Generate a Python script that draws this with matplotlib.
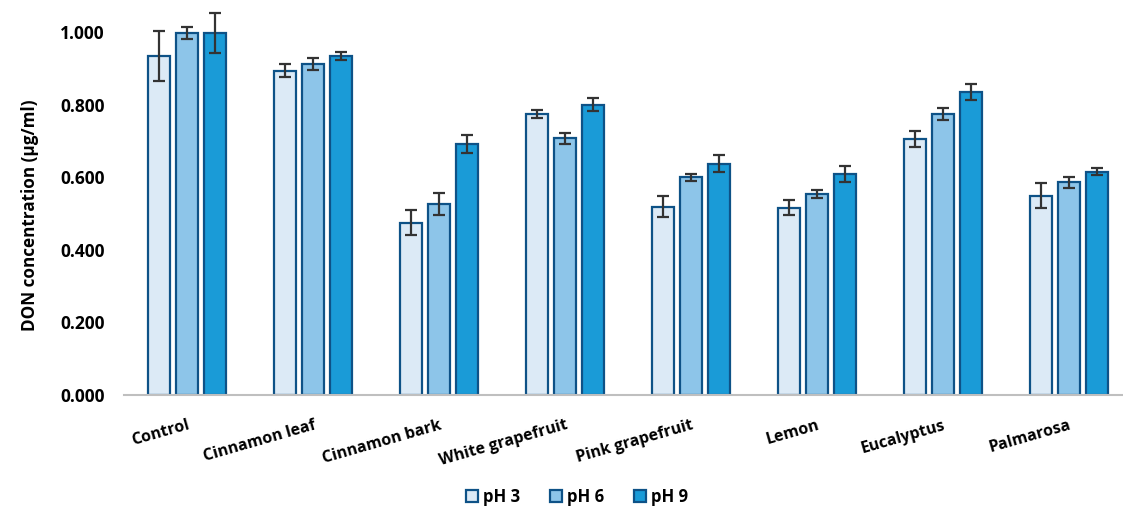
import numpy as np
import matplotlib
matplotlib.use("Agg")
import matplotlib.pyplot as plt

plt.rcParams['font.family'] = ['Open Sans', 'DejaVu Sans']
plt.rcParams['font.weight'] = 'bold'

oils = ['Control', 'Cinnamon leaf', 'Cinnamon bark', 'White grapefruit',
        'Pink grapefruit', 'Lemon', 'Eucalyptus', 'Palmarosa']
series = ['pH 3', 'pH 6', 'pH 9']

ph3 = [0.934, 0.893, 0.475, 0.774, 0.519, 0.516, 0.704, 0.549]
ph6 = [0.997, 0.912, 0.526, 0.707, 0.600, 0.554, 0.775, 0.586]
ph9 = [0.997, 0.934, 0.691, 0.800, 0.637, 0.609, 0.835, 0.615]

ph3_err = [0.069, 0.018, 0.035, 0.010, 0.029, 0.021, 0.022, 0.034]
ph6_err = [0.016, 0.017, 0.030, 0.016, 0.010, 0.010, 0.017, 0.015]
ph9_err = [0.054, 0.010, 0.024, 0.017, 0.023, 0.022, 0.022, 0.010]

yticks = [0.0, 0.2, 0.4, 0.6, 0.8, 1.0]

colors = ['#DCEAF6', '#8DC5E9', '#1A9BD7']
edge = '#0E5287'

fig = plt.figure(figsize=(11.23, 5.14), dpi=100)
ax = fig.add_axes([124 / 1123, 1 - 395 / 514, 1008 / 1123, 1.1 * 363 / 514])

x = np.arange(len(oils))
offsets = [-0.222, 0.0, 0.222]
width = 0.175
for vals, errs, off, col, lab in zip([ph3, ph6, ph9], [ph3_err, ph6_err, ph9_err],
                                     offsets, colors, series):
    ax.bar(x + off, vals, width, color=col, edgecolor=edge, linewidth=1.6,
           label=lab, zorder=2)
    ax.errorbar(x + off, vals, yerr=errs, fmt='none', ecolor='#333333',
                elinewidth=1.6, capsize=4, capthick=1.6, zorder=3, clip_on=False)

ax.set_xlim(-0.5, 7.5)
ax.set_ylim(0, 1.1)
ax.set_yticks(yticks)
ax.set_yticklabels(['%.3f' % v for v in yticks], fontsize=12.5, fontweight='bold')
ax.tick_params(axis='y', length=0, pad=14)
ax.set_xticks(x)
ax.set_xticklabels(oils, rotation=16, ha='right', rotation_mode='anchor',
                   fontsize=11.5, fontweight='bold')
ax.tick_params(axis='x', length=0, pad=16)
for s in ['top', 'right', 'left']:
    ax.spines[s].set_visible(False)
ax.spines['bottom'].set_color('#BFBFBF')
ax.spines['bottom'].set_linewidth(1.5)

fig.text(30 / 1123, 1 - 215 / 514, 'DON concentration (µg/ml)', rotation=90,
         ha='center', va='center', fontsize=12.3, fontweight='bold')

leg = fig.legend(loc='center', bbox_to_anchor=(577 / 1123, 1 - 497 / 514), ncol=3,
                 frameon=False, handlelength=0.7, handleheight=0.7,
                 handletextpad=0.3, columnspacing=1.8,
                 prop={'size': 12, 'weight': 'bold'})

fig.savefig('out.png', dpi=100)
